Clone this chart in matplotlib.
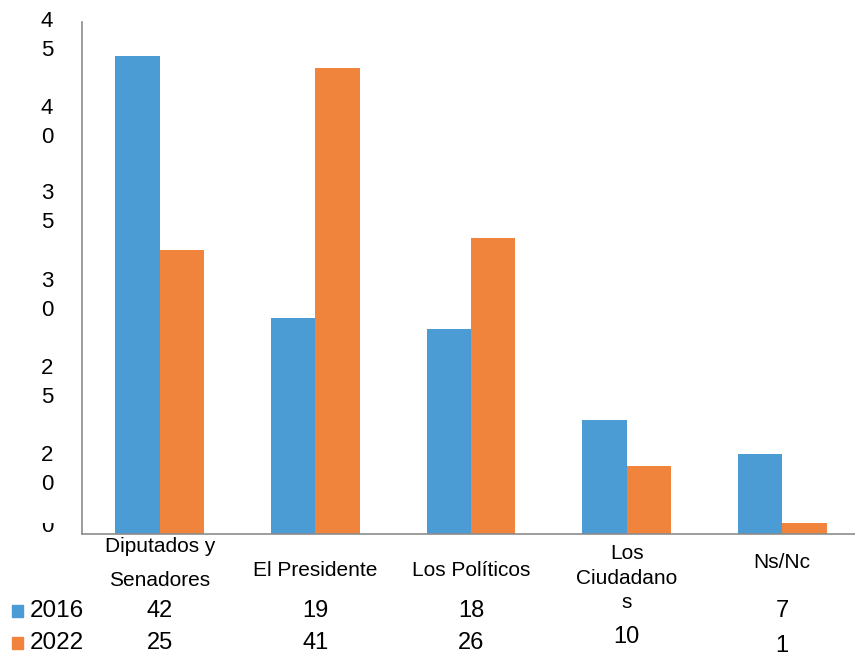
import matplotlib.pyplot as plt
import matplotlib.transforms as mtransforms
import numpy as np

categories = ["Diputados y\nSenadores", "El Presidente", "Los Políticos",
              "Los\nCiudadano\ns", "Ns/Nc"]
series_names = ["2016", "2022"]
values_2016 = [42, 19, 18, 10, 7]
values_2022 = [25, 41, 26, 6, 1]
# table rows as printed in the picture (the table text differs from the bars)
table_2016 = ["42", "19", "18", "", "7"]
table_2022 = ["25", "41", "26", "10", "1"]
ytick_labels = ["4\n5", "4\n0", "3\n5", "3\n0", "2\n5", "2\n0", "0"]

blue = "#4b9bd5"
orange = "#f0843c"

plt.rcParams['font.family'] = ['Liberation Sans', 'DejaVu Sans']

fig = plt.figure(figsize=(8.55, 6.56), dpi=100)
ax = fig.add_axes([82 / 855, 1 - 534 / 656, (860 - 82) / 855, 512 / 656])

x = np.arange(len(categories))
w = 0.285
ax.bar(x - w / 2, values_2016, w, color=blue)
ax.bar(x + w / 2, values_2022, w, color=orange)

ax.set_xlim(-0.5, len(categories) - 0.5)
ax.set_ylim(0, 45)
ax.set_xticks([])
ax.set_yticks([])
for s in ["top", "right"]:
    ax.spines[s].set_visible(False)
for s in ["left", "bottom"]:
    ax.spines[s].set_color("#8c8c8c")
    ax.spines[s].set_linewidth(1.2)

# odd wrapped y labels, spaced as in the original
ylab_y = [36, 123, 208, 296, 383, 470]
for lab, py in zip(ytick_labels[:-1], ylab_y):
    fig.text(47 / 855, 1 - py / 656, lab, ha="center", va="center",
             fontsize=16, linespacing=1.45)
zero = fig.text(47 / 855, 1 - 527 / 656, ytick_labels[-1], ha="center", va="center",
                fontsize=16)
# the zero label is cut at its top in the original
zero.set_clip_on(True)
zero.set_clip_box(mtransforms.Bbox([[0, 0], [200, 656 - 523]]))

# category labels and data table under the axis
tr = mtransforms.blended_transform_factory(ax.transData, fig.transFigure)
cat_y = [563, 570, 570, 578, 563]
cat_ls = [2.0, 1.2, 1.2, 1.35, 1.2]
for xi, lab, py, ls in zip(x, categories, cat_y, cat_ls):
    ax.text(xi, 1 - py / 656, lab, transform=tr, ha="center", va="center",
            fontsize=15, linespacing=ls, clip_on=False)

for xi, t1, t2 in zip(x, table_2016, table_2022):
    if t1:
        ax.text(xi, 1 - 611 / 656, t1, transform=tr, ha="center", va="center",
                fontsize=17, clip_on=False)
    py2 = 637 if t2 == "10" else 643
    if xi == 4:
        py2 = 646
    ax.text(xi, 1 - py2 / 656, t2, transform=tr, ha="center", va="center",
            fontsize=17, clip_on=False)

for name, col, py in zip(series_names, [blue, orange], [611, 643]):
    fig.patches.append(plt.Rectangle((12 / 855, 1 - (py + 6) / 656), 11 / 855, 12 / 656,
                                     transform=fig.transFigure, color=col))
    fig.text(30 / 855, 1 - py / 656, name, ha="left", va="center", fontsize=17.5)

fig.savefig("out.png", dpi=100)
